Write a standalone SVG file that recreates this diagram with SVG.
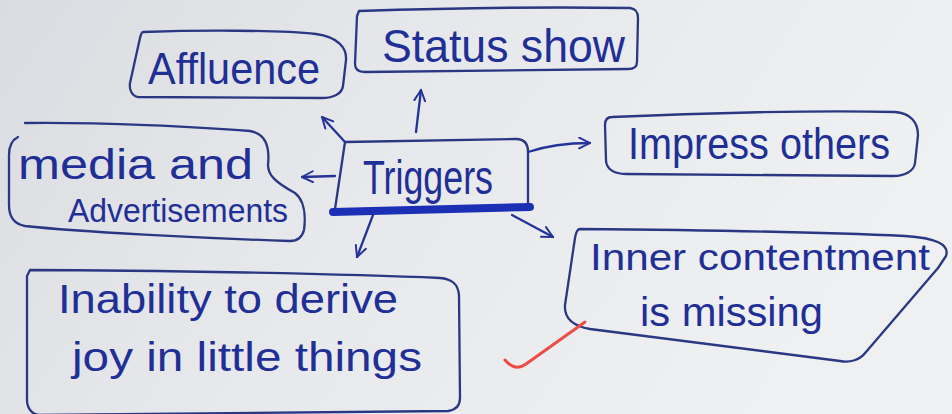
<svg xmlns="http://www.w3.org/2000/svg" width="952" height="414" viewBox="0 0 952 414">
  <defs>
    <linearGradient id="paper" x1="0" y1="0" x2="1" y2="0.3">
      <stop offset="0" stop-color="#dadce1"/>
      <stop offset="0.45" stop-color="#e6e8eb"/>
      <stop offset="1" stop-color="#eef0f2"/>
    </linearGradient>
    <marker id="head" viewBox="0 0 12 12" refX="11" refY="6" markerWidth="13" markerHeight="13" markerUnits="userSpaceOnUse" orient="auto">
      <path d="M1,1 L11,6 L1,11" fill="none" stroke="#24339a" stroke-width="1.8" stroke-linecap="round" stroke-linejoin="round"/>
    </marker>
    <style>
      .box { fill: none; stroke: #2a3782; stroke-width: 2.3; stroke-linecap: round; stroke-linejoin: round; }
      .ink { font-family: "Liberation Sans", "DejaVu Sans", sans-serif; fill: #1f2f96; }
      .arrow { fill: none; stroke: #24339a; stroke-width: 2.3; stroke-linecap: round; marker-end: url(#head); }
    </style>
  </defs>

  <rect width="952" height="414" fill="url(#paper)"/>

  <g id="affluence">
    <path class="box" d="M143,32 C200,30 280,30 316,34 C338,37 347,48 346,60 L343,86 C342,94 333,98 322,98 L138,97 C132,96 129,90 130,83 L140,38 C141,34 142,32 143,32 Z"/>
    <text class="ink" x="148" y="84" font-size="44" textLength="172" lengthAdjust="spacingAndGlyphs">Affluence</text>
  </g>

  <g id="status-show">
    <path class="box" d="M359,11 C450,8 560,7 630,8 C636,9 638,12 638,18 L637,62 C637,67 633,69 628,69 L365,72 C358,72 355,69 355,64 L357,16 Z"/>
    <text class="ink" x="382" y="62" font-size="46" textLength="243" lengthAdjust="spacingAndGlyphs">Status show</text>
  </g>

  <g id="impress-others">
    <path class="box" d="M612,117 C700,113 820,110 895,112 C910,113 918,122 918,135 L915,163 C914,171 905,176 893,176 L626,174 C614,174 606,169 606,160 L605,125 C605,120 607,117 612,117 Z"/>
    <text class="ink" x="628" y="159" font-size="44" textLength="262" lengthAdjust="spacingAndGlyphs">Impress others</text>
  </g>

  <g id="triggers">
    <path class="box" d="M335,209 L345,142 L516,139 Q528,139 528,152 L528,207"/>
    <path d="M333,212 L530,207" fill="none" stroke="#1b2fb5" stroke-width="8" stroke-linecap="round"/>
    <text class="ink" x="363" y="194" font-size="48" textLength="130" lengthAdjust="spacingAndGlyphs">Triggers</text>
  </g>

  <g id="media-advertisements">
    <path class="box" d="M25,123 C100,122 200,127 250,131 C265,134 270,145 268,165 C268,175 275,182 295,193 C304,200 306,215 304,230 C302,238 297,241 290,241 C200,238 80,232 25,226 C14,224 9,216 9,205 L9,155 C9,145 12,140 18,137"/>
    <text class="ink" x="18" y="179" font-size="42" textLength="235" lengthAdjust="spacingAndGlyphs">media and</text>
    <text class="ink" x="68" y="222" font-size="34" textLength="220" lengthAdjust="spacingAndGlyphs">Advertisements</text>
  </g>

  <g id="inner-contentment">
    <path class="box" d="M580,229 C700,230 820,232 905,236 C935,238 950,244 946,256 L938,268 L866,352 C860,360 850,363 840,361 L590,329 C573,326 564,318 565,305 L575,238 C576,232 578,229 580,229 Z"/>
    <text class="ink" x="590" y="270" font-size="36" textLength="340" lengthAdjust="spacingAndGlyphs">Inner contentment</text>
    <text class="ink" x="640" y="326" font-size="40" textLength="183" lengthAdjust="spacingAndGlyphs">is missing</text>
  </g>

  <g id="inability">
    <path class="box" d="M30,270 C150,270 350,274 440,278 C452,279 458,284 459,295 L460,398 C460,406 455,410 448,411 L40,415 C32,415 27,408 27,400 L27,276 Z"/>
    <text class="ink" x="58" y="313" font-size="40" textLength="340" lengthAdjust="spacingAndGlyphs">Inability to derive</text>
    <text class="ink" x="72" y="371" font-size="40" textLength="350" lengthAdjust="spacingAndGlyphs">joy in little things</text>
  </g>

  <g id="connectors">
    <path class="arrow" d="M416,132 L421,90"/>
    <path class="arrow" d="M345,142 L322,117"/>
    <path class="arrow" d="M335,176 L302,177"/>
    <path class="arrow" d="M528,152 Q555,143 590,143"/>
    <path class="arrow" d="M373,215 L357,257"/>
    <path class="arrow" d="M512,215 L553,237"/>
  </g>

  <!-- red tick mark in the margin -->
  <path d="M585,322 L526,364 Q515,372 505,360" fill="none" stroke="#ef4b45" stroke-width="3" stroke-linecap="round"/>
</svg>
